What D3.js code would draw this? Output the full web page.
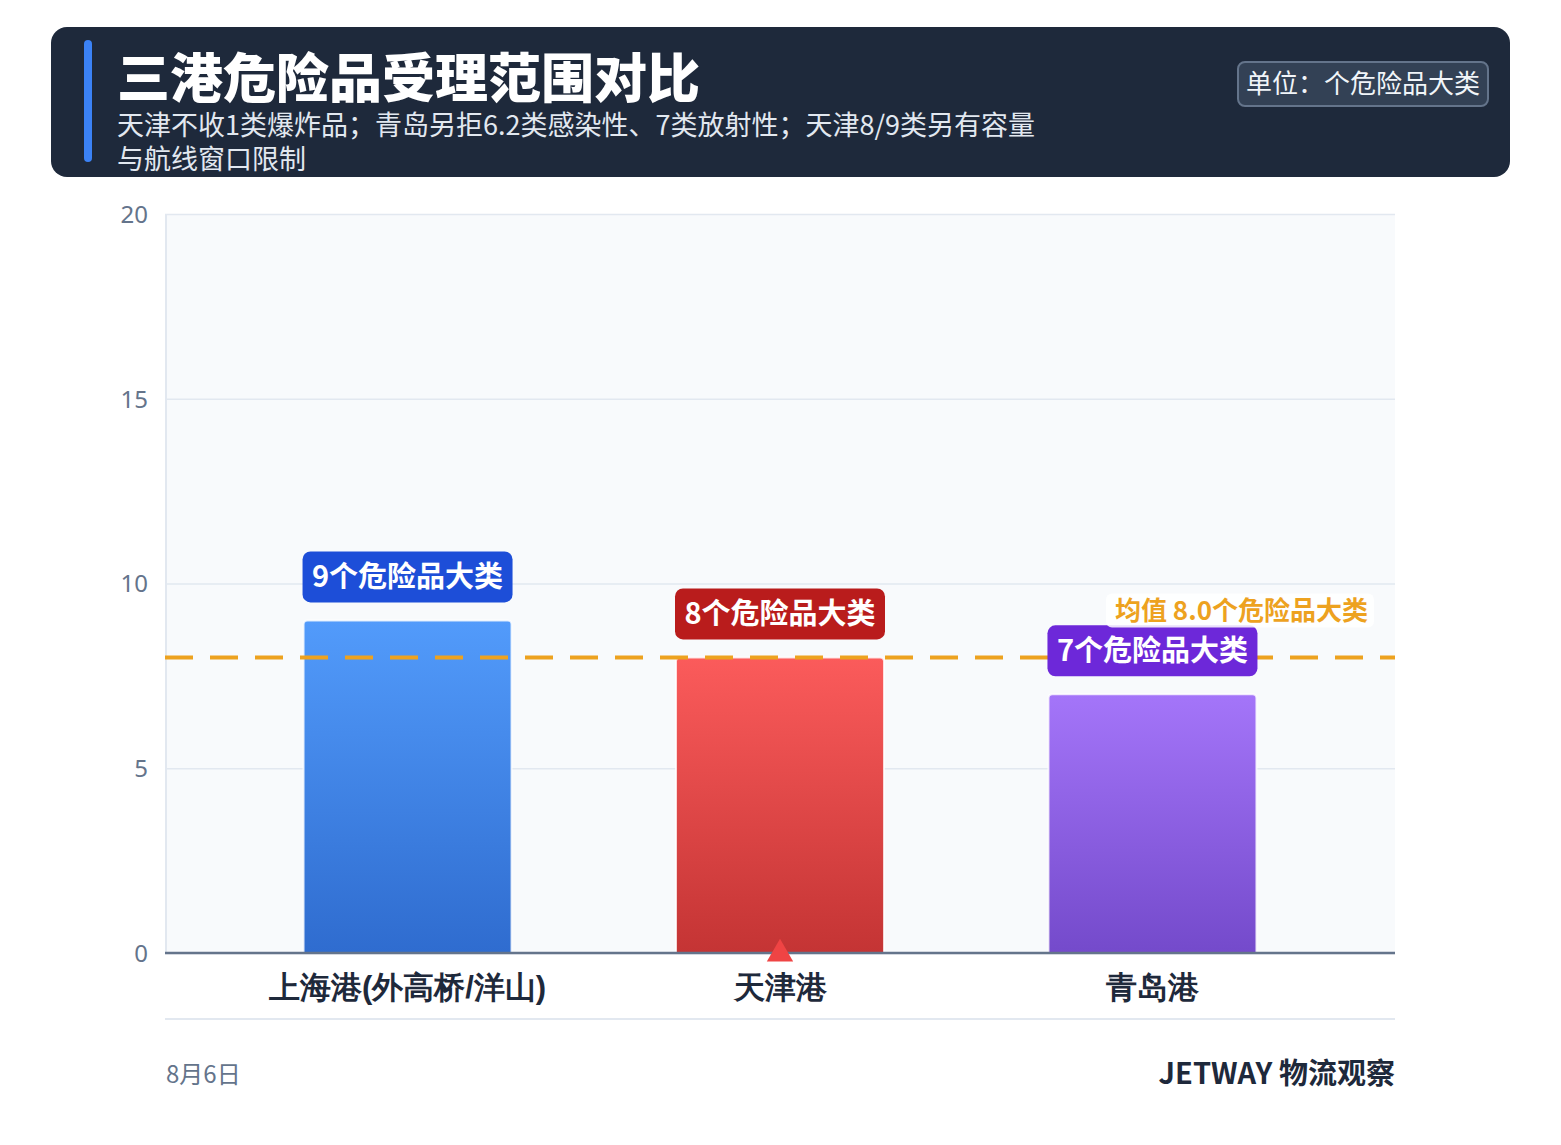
<!DOCTYPE html>
<html><head><meta charset="utf-8">
<script src="https://cdn.jsdelivr.net/npm/d3@7"></script>
<style>
html,body{margin:0;padding:0;background:#fff;}
svg{display:block;font-family:"Noto Sans CJK SC","Noto Sans",sans-serif;}
</style></head>
<body>
<svg id="c" width="1561" height="1145"></svg>
<script>
const categories = ["上海港(外高桥/洋山)", "天津港", "青岛港"];
const values = [9, 8, 7];
const valueLabels = ["9个危险品大类", "8个危险品大类", "7个危险品大类"];
const yTicks = [0, 5, 10, 15, 20];
const meanValue = 8.0;
const meanLabel = "均值 8.0个危险品大类";
const title = "三港危险品受理范围对比";
const subtitleLines = ["天津不收1类爆炸品；青岛另拒6.2类感染性、7类放射性；天津8/9类另有容量", "与航线窗口限制"];
const unitLabel = "单位：个危险品大类";
const footerLeft = "8月6日";
const footerRight = "JETWAY 物流观察";
const highlightIndex = 1;

const barTop = ["#529bfb", "#fb5b5b", "#a475f9"];
const barBottom = ["#2f6ccf", "#c43434", "#744acb"];
const badgeFill = ["#1d4ed8", "#b91c1c", "#6d28d9"];

const svg = d3.select("#c");
const m = {left:165, right:1395, top:214, bottom:953};

// header
svg.append("rect").attr("x",51).attr("y",27).attr("width",1459).attr("height",150).attr("rx",16).attr("fill","#1e293b");
svg.append("rect").attr("x",84).attr("y",40).attr("width",8).attr("height",122).attr("rx",4).attr("fill","#3b82f6");
svg.append("text").attr("x",117).attr("y",98).attr("fill","#fff").attr("font-size",53).attr("font-weight",900).text(title);
subtitleLines.forEach((s,i)=>{
  svg.append("text").attr("x",117).attr("y",135+i*34).attr("fill","#e2e8f0").attr("font-size",27).text(s);
});
svg.append("rect").attr("x",1238).attr("y",62).attr("width",250).attr("height",44).attr("rx",7)
  .attr("fill","#334155").attr("stroke","#64748b").attr("stroke-width",2);
svg.append("text").attr("x",1363).attr("y",93).attr("text-anchor","middle").attr("fill","#f1f5f9").attr("font-size",26).text(unitLabel);

// scales
const x = d3.scaleBand().domain(categories).range([m.left, m.right]).paddingInner(0.4416).paddingOuter(0.372);
const y = d3.scaleLinear().domain([0,20]).range([m.bottom, m.top]);

// plot bg
svg.append("rect").attr("x",m.left).attr("y",m.top).attr("width",m.right-m.left).attr("height",m.bottom-m.top).attr("fill","#f8fafc");
svg.append("line").attr("x1",m.left+1).attr("x2",m.left+1).attr("y1",m.top).attr("y2",m.bottom).attr("stroke","#e2e8f0").attr("stroke-width",2);

// grid
const yAxis = d3.axisLeft(y).tickValues(yTicks).tickSize(-(m.right-m.left)).tickPadding(17);
const gy = svg.append("g").attr("transform",`translate(${m.left},0)`).call(yAxis);
gy.select(".domain").remove();
gy.selectAll(".tick line").attr("stroke","#e2e8f0").attr("stroke-width",1.5);
gy.selectAll(".tick text").attr("fill","#64748b").attr("font-size",24).attr("font-family","Noto Sans, sans-serif").attr("dy","0.35em");

// gradients
const defs = svg.append("defs");
categories.forEach((c,i)=>{
  const g = defs.append("linearGradient").attr("id","g"+i).attr("x1",0).attr("x2",0).attr("y1",0).attr("y2",1);
  g.append("stop").attr("offset","0%").attr("stop-color",barTop[i]);
  g.append("stop").attr("offset","100%").attr("stop-color",barBottom[i]);
});

// bars
const r = 4;
categories.forEach((c,i)=>{
  const x0 = x(c), w = x.bandwidth(), yt = y(values[i]), yb = y(0);
  const p = `M${x0},${yb} L${x0},${yt+r} Q${x0},${yt} ${x0+r},${yt} L${x0+w-r},${yt} Q${x0+w},${yt} ${x0+w},${yt+r} L${x0+w},${yb} Z`;
  svg.append("path").attr("d",p).attr("fill",`url(#g${i})`).attr("stroke","#ffffff").attr("stroke-opacity",0.8).attr("stroke-width",2);
});

// mean line
svg.append("line").attr("x1",m.left).attr("x2",m.right).attr("y1",y(meanValue)).attr("y2",y(meanValue))
  .attr("stroke","#eda21f").attr("stroke-width",4).attr("stroke-dasharray","28,17");

// value badges
categories.forEach((c,i)=>{
  const cx = x(c)+x.bandwidth()/2, yt = y(values[i]);
  const bw = 210, bh = 51;
  svg.append("rect").attr("x",cx-bw/2).attr("y",yt-18-bh).attr("width",bw).attr("height",bh).attr("rx",8).attr("fill",badgeFill[i]);
  svg.append("text").attr("x",cx).attr("y",yt-18-bh/2+10).attr("text-anchor","middle").attr("fill","#fff")
    .attr("font-size",29).attr("font-weight",700).text(valueLabels[i]);
});

// mean label
svg.append("rect").attr("x",1106).attr("y",y(meanValue)-64).attr("width",268).attr("height",34).attr("rx",6).attr("fill","#ffffff").attr("fill-opacity",0.85);
svg.append("text").attr("x",1368).attr("y",y(meanValue)-37).attr("text-anchor","end").attr("fill","#eda21f")
  .attr("font-size",26).attr("font-weight",700).text(meanLabel);

// x axis
const xAxis = d3.axisBottom(x).tickSize(0).tickPadding(17);
const gx = svg.append("g").attr("transform",`translate(0,${m.bottom})`).call(xAxis);
gx.select(".domain").attr("stroke","#64748b").attr("stroke-width",2.5).attr("d",`M${m.left},0H${m.right}`);
gx.selectAll(".tick text").attr("fill","#1e293b").attr("font-size",31).attr("font-weight",700).attr("dy","0.9em");

// highlight triangle
const hx = x(categories[highlightIndex]) + x.bandwidth()/2;
svg.append("path").attr("d", d3.symbol().type(d3.symbolTriangle).size(300)()).attr("transform",`translate(${hx},${m.bottom+1})`).attr("fill","#ef4444");

// bottom rule
svg.append("line").attr("x1",m.left).attr("x2",m.right).attr("y1",1019).attr("y2",1019).attr("stroke","#e2e8f0").attr("stroke-width",2);

// footer
svg.append("text").attr("x",166).attr("y",1083).attr("fill","#64748b").attr("font-size",24).text(footerLeft);
svg.append("text").attr("x",m.right).attr("y",1084).attr("text-anchor","end").attr("fill","#1e293b").attr("font-size",29).attr("font-weight",700).text(footerRight);
</script>
</body></html>
